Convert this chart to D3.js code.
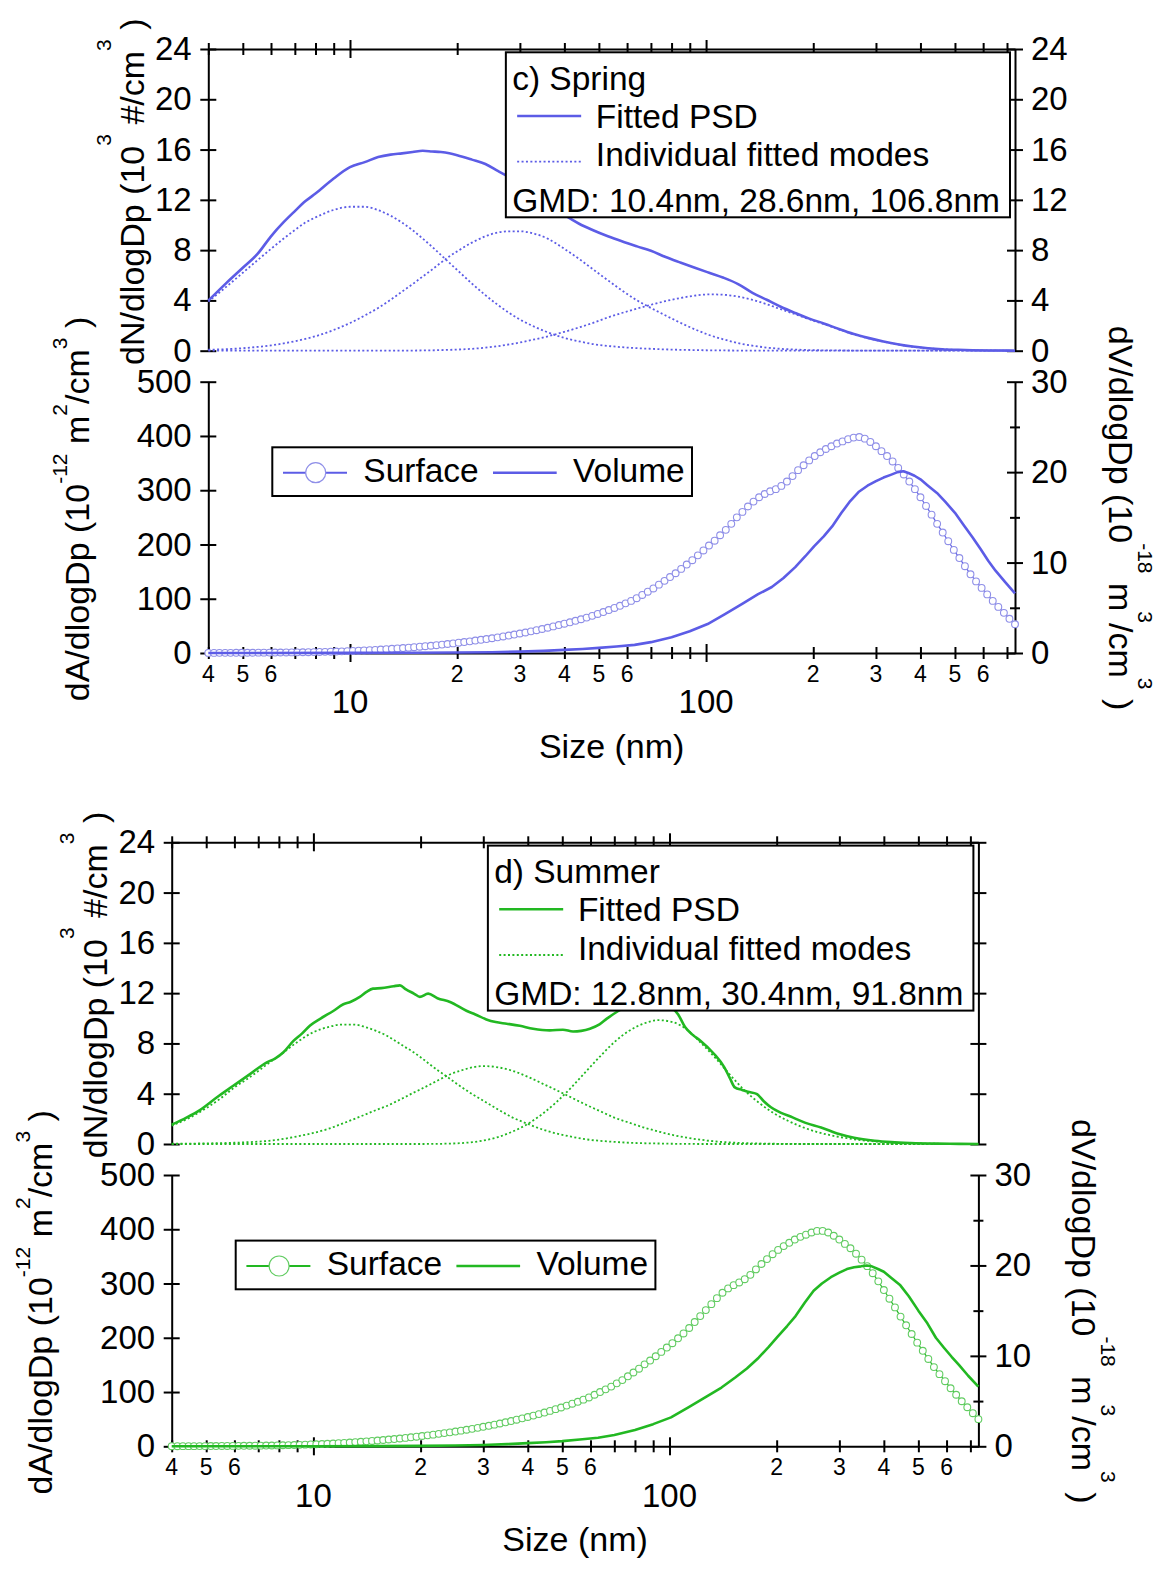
<!DOCTYPE html>
<html><head><meta charset="utf-8">
<script src="https://cdn.jsdelivr.net/npm/d3@7"></script>
<style>
html,body{margin:0;padding:0;background:#fff;}
svg text{font-family:"Liberation Sans",Arial,sans-serif;}
</style></head>
<body><svg id="chart" width="1161" height="1573"></svg>
<script>
// ---------------- DATA ----------------
const sizes = [4.00,4.15,4.30,4.46,4.62,4.79,4.96,5.15,5.33,5.53,5.73,5.94,6.16,6.38,6.62,6.86,7.11,7.37,7.64,7.92,8.21,8.51,8.83,9.15,9.48,9.83,10.19,10.57,10.95,11.36,11.77,12.20,12.65,13.11,13.59,14.09,14.61,15.14,15.70,16.27,16.87,17.49,18.13,18.79,19.48,20.19,20.93,21.70,22.49,23.32,24.17,25.06,25.97,26.93,27.91,28.93,29.99,31.09,32.23,33.41,34.64,35.91,37.22,38.59,40.00,41.47,42.98,44.56,46.19,47.88,49.63,51.45,53.33,55.29,57.31,59.41,61.59,63.84,66.18,68.61,71.12,73.72,76.43,79.22,82.13,85.13,88.25,91.49,94.84,98.31,101.9,105.7,109.5,113.6,117.7,122.0,126.5,131.1,135.9,140.9,146.1,151.4,157.0,162.7,168.7,174.9,181.3,187.9,194.8,201.9,209.3,217.0,224.9,233.2,241.7,250.6,259.7,269.3,279.1,289.3,299.9,310.9,322.3,334.1,346.4,359.1,372.2,385.9,400.0,414.7,429.8,445.6,461.9,478.8,496.3,514.5,533.3,552.9,573.1,594.1,615.9,638.4,661.8,686.1,711.2,737.2];

const springSurface = [0.2,0.2,0.3,0.3,0.3,0.4,0.4,0.5,0.5,0.6, 0.6,0.7,0.8,0.9,1.0,1.1,1.2,1.4,1.5,1.7, 1.9,2.1,2.4,2.7,3.0,3.4,3.8,4.2,4.7,5.2, 5.8,6.4,7.0,7.7,8.4,9.1,9.9,10.7,11.6,12.5, 13.4,14.4,15.5,16.6,17.7,19.0,20.2,21.5,22.9,24.3, 25.7,27.2,28.8,30.5,32.2,34.0,35.9,37.8,39.9,42.0, 44.2,46.5,49.0,51.5,54.0,56.6,59.3,62.2,65.2,68.5, 72.0,75.5,79.2,83.0,87.0,91.5,96,101,107,113, 119,126,133,140,147,155,163,171,180,189, 198,207,217,227,238,250,260,270,279,287, 293,298,302,308,316,326,337,346,355,363, 370,376,381,386,390,394,397,398,395,389, 381,372,363,353,341,329,316,302,287,271, 255,238,222,206,190,175,160,145,132,120, 108,96,85,74,63,53];

const summerSurface = [0.2,0.2,0.3,0.3,0.3,0.4,0.4,0.5,0.5,0.6, 0.6,0.7,0.8,0.9,1.0,1.1,1.2,1.4,1.5,1.7, 1.9,2.1,2.4,2.7,3.0,3.4,3.8,4.2,4.7,5.2, 5.8,6.4,7.0,7.7,8.4,9.1,9.9,10.7,11.6,12.5, 13.4,14.4,15.5,16.6,17.7,19.0,20.2,21.5,22.9,24.3, 25.7,27.2,28.8,30.5,32.2,34.0,35.9,37.8,39.9,42.0, 44.2,46.5,49.0,51.5,54.0,56.6,59.3,62.2,65.2,68.5, 71.5,75,78.5,82,86,90,95,100,105,110, 116,122,129,136,143,151,158,166,174,182, 190,199,208,218,229,240,251,262,273,283, 291,297,302,308,316,326,336,345,354,362, 369,375,381,386,390,394,397,397,394,388, 381,373,365,355,344,332,319,304,288,272, 256,239,223,207,191,176,161,146,133,120, 107,95,83,72,61,50];

const volSizes = [4,10,15,20,25,30,35,40,45,50,56,63,70,80,90,101,113,127,140,153,165,178,190,201,214,226,240,254,268,284,300,315,330,345,358,370,385,400,420,445,470,500,530,560,590,620,650,690,737];
const springVolume = [0,0.01,0.02,0.05,0.09,0.15,0.24,0.35,0.45,0.57, 0.72,0.9,1.2,1.75,2.4,3.2,4.3,5.5,6.5,7.3, 8.3,9.5,10.7,11.8,12.9,14.0,15.5,16.8,17.8,18.5, 19.0,19.4,19.7,20.0,20.1,19.9,19.6,19.2,18.5,17.7, 16.7,15.5,14.1,12.8,11.5,10.2,9.1,7.9,6.6];
const summerVolume = [0,0.01,0.02,0.05,0.09,0.15,0.24,0.35,0.45,0.57, 0.75,0.95,1.25,1.8,2.45,3.2,4.3,5.5,6.5,7.6, 8.6,9.8,11.0,12.1,13.3,14.4,15.9,17.2,18.0,18.7, 19.2,19.6,19.8,19.9,20.0,19.9,19.6,19.3,18.6,17.8, 16.6,15.0,13.6,12.0,10.9,9.9,9.0,7.8,6.6];

const modeSizes = [4,4.5,5,5.5,6,6.5,7,7.5,8,9, 10,11,12,13,14,15,16,17,18,19, 20,22,24,26,28,30,33,36,40,44, 48,53,58,64,70,77,85,93,102,112, 123,135,148,162,178,195,215,236,260,285, 315,345,380,420,460,510,560,620,680,737];

const springFit = [3.98,5.4,6.6,7.7,9.1,10.2,11.1,11.9,12.5,13.7, 14.6,15.0,15.4,15.6,15.7,15.8,15.9,15.85,15.8,15.7, 15.55,15.2,14.85,14.3,13.8,13.2,12.4,11.7,10.8,10.1, 9.6,9.1,8.7,8.3,7.95,7.45,7.0,6.6,6.2,5.8, 5.3,4.6,4.05,3.5,3.0,2.55,2.15,1.72,1.32,1.02, 0.74,0.52,0.33,0.2,0.12,0.07,0.04,0.02,0.01,0];
const springMode1 = [3.9,5.1,6.2,7.2,8.1,8.9,9.6,10.2,10.6,11.2, 11.45,11.45,11.18,10.74,10.19,9.58,8.92,8.27,7.62,7.0, 6.42,5.34,4.42,3.65,3.0,2.48,1.9,1.45,1.02,0.74, 0.53,0.38,0.28,0.2,0.15,0.1,0.07,0.05,0.03,0.02, 0.01,0,0,0,0,0,0,0,0,0, 0,0,0,0,0,0,0,0,0,0];
const springMode2 = [0.08,0.12,0.2,0.3,0.42,0.58,0.75,0.95,1.15,1.65, 2.2,2.8,3.4,4.05,4.7,5.3,5.9,6.45,7.0,7.5, 7.9,8.6,9.1,9.4,9.5,9.5,9.3,8.9,8.1,7.3, 6.5,5.6,4.8,4.0,3.4,2.8,2.2,1.7,1.25,0.9, 0.6,0.4,0.25,0.15,0.09,0.05,0.03,0.02,0.01,0, 0,0,0,0,0,0,0,0,0,0];
const springMode3 = [0,0,0,0,0,0,0,0,0,0, 0,0,0,0,0,0.01,0.02,0.03,0.05,0.07, 0.09,0.15,0.24,0.36,0.5,0.65,0.9,1.15,1.5,1.85, 2.2,2.65,3.0,3.35,3.65,3.95,4.2,4.38,4.48,4.45, 4.3,4.05,3.7,3.3,2.9,2.5,2.1,1.7,1.3,1.0, 0.72,0.5,0.32,0.19,0.11,0.06,0.03,0.02,0.01,0];

const summerFitSizes = [4,4.4,4.8,5.36,5.97,6.65,7.4,7.8,8.24,8.79, 9.3,9.79,10.5,11.4,12.1,12.7,13.5,14.1,14.7,15.5, 16.8,17.5,18.2,19.2,19.9,21.0,22.3,24.2,26.9,28.5, 30.6,32.5,34.9,38,41.4,46.1,50.2,53.6,56.5,59.8, 63.6,66.7,72,80,88,96,105.8,110.6,116,121.9, 133.3,142.6,148,152.6,160,166,175.6,184,192.7,205, 221.7,240,266.5,299.5,330,377,420,475,560,650,737];
const summerFit = [1.54,2.1,2.7,3.72,4.65,5.58,6.5,6.8,7.3,8.2, 8.8,9.43,10.0,10.6,11.1,11.3,11.7,12.1,12.36,12.4, 12.55,12.62,12.3,11.95,11.7,11.96,11.6,11.3,10.6,10.3, 9.91,9.7,9.57,9.4,9.17,9.04,9.09,8.95,9.0,9.17, 9.51,9.97,10.6,11.3,11.5,11.2,10.3,9.3,8.7,8.24, 7.18,6.1,5.2,4.5,4.3,4.15,3.99,3.4,2.92,2.5, 2.12,1.7,1.32,0.8,0.5,0.26,0.15,0.08,0.03,0.01,0];
const summerMode1 = [1.46,2.1,2.85,3.65,4.5,5.15,5.8,6.45,7.0,8.1, 8.9,9.3,9.5,9.5,9.3,9.0,8.65,8.2,7.75,7.35, 6.9,6.0,5.25,4.55,3.95,3.45,2.75,2.15,1.6,1.15, 0.85,0.58,0.38,0.25,0.17,0.1,0.06,0.04,0.02,0.01, 0,0,0,0,0,0,0,0,0,0, 0,0,0,0,0,0,0,0,0,0];
const summerMode2 = [0.02,0.03,0.05,0.07,0.1,0.14,0.19,0.25,0.35,0.6, 0.88,1.2,1.6,1.98,2.35,2.7,3.0,3.35,3.7,4.05, 4.35,4.95,5.5,5.85,6.1,6.2,6.1,5.85,5.35,4.8, 4.3,3.7,3.15,2.6,2.1,1.7,1.3,1.0,0.72,0.5, 0.33,0.2,0.12,0.07,0.04,0.02,0.01,0,0,0, 0,0,0,0,0,0,0,0,0,0];
const summerMode3 = [0,0,0,0,0,0,0,0,0,0, 0,0,0,0,0,0,0,0,0,0, 0,0.01,0.03,0.07,0.15,0.27,0.55,0.95,1.6,2.4, 3.3,4.5,5.7,7.0,8.1,9.0,9.6,9.85,9.7,9.1, 8.0,6.8,5.5,4.3,3.3,2.5,1.85,1.35,0.95,0.68, 0.46,0.31,0.2,0.12,0.07,0.04,0.02,0.01,0,0];

const xTicks = [4,5,6,7,8,9,10,20,30,40,50,60,70,80,90,100,200,300,400,500,600,700];
const xMajor = [10,100];
const xMinorLabelValues = [4,5,6,20,30,40,50,60,200,300,400,500,600];
const xMinorLabels = ["4","5","6","2","3","4","5","6","2","3","4","5","6"];
const xMajorLabels = ["10","100"];
const numberTicks = [0,4,8,12,16,20,24];
const areaTicks = [0,100,200,300,400,500];
const volumeTicks = [0,5,10,15,20,25,30];

const springTitle = "c) Spring", summerTitle = "d) Summer";
const springGMD = "GMD: 10.4nm, 28.6nm, 106.8nm", summerGMD = "GMD: 12.8nm, 30.4nm, 91.8nm";
const legendFitted = "Fitted PSD", legendModes = "Individual fitted modes";
const legendSurface = "Surface", legendVolume = "Volume";

// ---------------- LAYOUT ----------------
const FF = '"Liberation Sans", Arial, sans-serif';
const X0 = 208.3, X1 = 1015, NT = 49, NB = 350.7, AT = 381.7, AB = 653;
const svg = d3.select("#chart");

const panels = [
  {dx:0, dy:0, color:"#5c5ce6", light:"#8f8fe8", title:springTitle, gmd:springGMD,
   fitSizes:modeSizes, fit:springFit, modes:[springMode1,springMode2,springMode3],
   surface:springSurface, volume:springVolume, topRightLabels:true},
  {dx:-36.6, dy:793.3, color:"#22b822", light:"#62cc62", title:summerTitle, gmd:summerGMD,
   fitSizes:summerFitSizes, fit:summerFit, modes:[summerMode1,summerMode2,summerMode3],
   surface:summerSurface, volume:summerVolume, topRightLabels:false}
];

function styleAxis(sel, fs){
  sel.attr("font-family", FF).attr("font-size", fs||33);
  sel.select(".domain").attr("stroke","#000").attr("stroke-width",2);
  sel.selectAll(".tick line").attr("stroke","#000").attr("stroke-width",2);
  sel.selectAll(".tick text").attr("fill","#000");
}

function title(g, x, y, rot, parts, fs){
  const t = g.append("text").attr("transform",`translate(${x},${y}) rotate(${rot})`)
    .attr("text-anchor","middle").attr("font-size",fs).attr("fill","#000");
  let cur = 0;
  parts.forEach(([s, raise, size]) => {
    t.append("tspan").attr("dy", -(raise - cur)).attr("font-size", size || fs).text(s);
    cur = raise;
  });
}

function drawPanel(p){
  const g = svg.append("g");
  const dx = p.dx, dy = p.dy;
  const x = d3.scaleLog().domain([4, 737.2]).range([X0+dx, X1+dx]);
  const yN = d3.scaleLinear().domain([0,24]).range([NB+dy, NT+dy]);
  const yA = d3.scaleLinear().domain([0,500]).range([AB+dy, AT+dy]);
  const yV = d3.scaleLinear().domain([0,30]).range([AB+dy, AT+dy]);
  const isMajor = d => xMajor.includes(d);

  // ---- top subplot axes ----
  const ln = g.append("g").attr("transform",`translate(${X0+dx},0)`)
    .call(d3.axisLeft(yN).tickValues(numberTicks).tickSizeInner(8).tickSizeOuter(0).tickPadding(8.6));
  ln.selectAll(".tick line").attr("x1", 8);
  styleAxis(ln);
  const rn = g.append("g").attr("transform",`translate(${X1+dx},0)`)
    .call(d3.axisRight(yN).tickValues(numberTicks).tickSizeInner(8).tickSizeOuter(0).tickPadding(8)
      .tickFormat(d => p.topRightLabels ? d : ""));
  rn.selectAll(".tick line").attr("x1", -8);
  styleAxis(rn);
  const tx = g.append("g").attr("transform",`translate(0,${NT+dy})`)
    .call(d3.axisTop(x).tickValues(xTicks).tickFormat("").tickSizeOuter(0).tickSizeInner(6));
  tx.selectAll(".tick line").attr("y1", d => isMajor(d) ? 9 : 6).attr("y2", d => isMajor(d) ? -9 : -6);
  styleAxis(tx);

  // ---- bottom subplot axes ----
  const la = g.append("g").attr("transform",`translate(${X0+dx},0)`)
    .call(d3.axisLeft(yA).tickValues(areaTicks).tickSizeInner(8).tickSizeOuter(0).tickPadding(8.6));
  la.selectAll(".tick line").attr("x1", 8);
  styleAxis(la);
  const rv = g.append("g").attr("transform",`translate(${X1+dx},0)`)
    .call(d3.axisRight(yV).tickValues(volumeTicks).tickSizeInner(8).tickSizeOuter(0).tickPadding(8)
      .tickFormat(d => d % 10 === 0 ? d : ""));
  rv.selectAll(".tick line").attr("x1", d => d % 10 ? -5 : -8).attr("x2", d => d % 10 ? 5 : 8);
  styleAxis(rv);
  const bx = g.append("g").attr("transform",`translate(0,${AB+dy})`)
    .call(d3.axisBottom(x).tickValues(xTicks).tickFormat("").tickSizeOuter(0).tickSizeInner(6));
  bx.selectAll(".tick line").attr("y1", d => isMajor(d) ? -9 : -6).attr("y2", d => isMajor(d) ? 9 : 6);
  styleAxis(bx);

  // x tick labels
  g.append("g").selectAll("text").data(xMinorLabelValues).join("text")
    .attr("x", d => x(d)).attr("y", AB+dy+28.7).attr("text-anchor","middle")
    .attr("font-size", 23).attr("fill","#000").text((d,i) => xMinorLabels[i]);
  g.append("g").selectAll("text").data(xMajor).join("text")
    .attr("x", d => x(d)).attr("y", AB+dy+60.3).attr("text-anchor","middle")
    .attr("font-size", 33).attr("fill","#000").text((d,i) => xMajorLabels[i]);

  // axis titles
  g.append("text").attr("x", (X0+X1)/2+dx).attr("y", 758+dy).attr("text-anchor","middle")
    .attr("font-size", 34).attr("fill","#000").text("Size (nm)");
  title(g, 144+dx, 191.7+dy, -90, [["dN/dlogDp (10",0],["3",33,21],[" #/cm",0],["3",33,21],[" )",0]], 34);
  title(g, 89+dx, 509+dy, -90, [["dA/dlogDp (10",0],["-12",22,21],[" m",0],["2",22,21],["/cm",0],["3",22,21],[" )",0]], 34);
  title(g, 1109+dx, 518+dy, 90, [["dV/dlogDp (10",0],["-18",29,21],[" m",0],["3",29,21],["/cm",0],["3",29,21],[" )",0]], 34);

  // ---- top subplot curves ----
  const lineN = d3.line().x(d => x(d[0])).y(d => yN(d[1]));
  p.modes.forEach(m => {
    g.append("path").datum(d3.zip(modeSizes, m)).attr("fill","none").attr("stroke",p.color)
      .attr("stroke-width",1.8).attr("stroke-dasharray","2,2.4")
      .attr("d", lineN.curve(d3.curveMonotoneX));
  });
  g.append("path").datum(d3.zip(p.fitSizes, p.fit)).attr("fill","none").attr("stroke",p.color)
    .attr("stroke-width",2.6).attr("stroke-linejoin","round")
    .attr("d", d3.line().x(d => x(d[0])).y(d => yN(d[1])).curve(d3.curveMonotoneX));

  // ---- bottom subplot curves ----
  const surf = d3.zip(sizes, p.surface);
  g.append("path").datum(surf).attr("fill","none").attr("stroke",p.color).attr("stroke-width",1.2)
    .attr("d", d3.line().x(d => x(d[0])).y(d => yA(d[1])));
  g.append("g").selectAll("circle").data(surf).join("circle")
    .attr("cx", d => x(d[0])).attr("cy", d => yA(d[1])).attr("r", 3.4)
    .attr("fill","#fff").attr("stroke",p.light).attr("stroke-width",1.1);
  g.append("path").datum(d3.zip(volSizes, p.volume)).attr("fill","none").attr("stroke",p.color)
    .attr("stroke-width",2.6).attr("stroke-linejoin","round")
    .attr("d", d3.line().x(d => x(d[0])).y(d => yV(d[1])));

  // ---- legend (top) ----
  const LF = 33.5;
  const lg = g.append("g");
  const top = 52.3 + dy, boxR = X1 + dx - 5;
  const box = lg.append("rect");
  const gm = lg.append("text").attr("font-size",LF).attr("fill","#000").text(p.gmd);
  const w = gm.node().getComputedTextLength();
  const tX = boxR - 10 - w, boxL = tX - 6.3;
  gm.attr("x", tX).attr("y", top + 159.4);
  box.attr("x", boxL).attr("y", top).attr("width", boxR - boxL).attr("height", 165)
    .attr("fill","#fff").attr("stroke","#000").attr("stroke-width",2);
  lg.append("text").attr("x", tX).attr("y", top + 37.7).attr("font-size",LF).attr("fill","#000").text(p.title);
  lg.append("line").attr("x1", tX+5).attr("x2", tX+69).attr("y1", top+63.7).attr("y2", top+63.7)
    .attr("stroke",p.color).attr("stroke-width",2.6);
  lg.append("text").attr("x", tX+83.7).attr("y", top + 75.7).attr("font-size",LF).attr("fill","#000").text(legendFitted);
  lg.append("line").attr("x1", tX+5).attr("x2", tX+69).attr("y1", top+109.4).attr("y2", top+109.4)
    .attr("stroke",p.color).attr("stroke-width",1.8).attr("stroke-dasharray","2,2.4");
  lg.append("text").attr("x", tX+83.7).attr("y", top + 114).attr("font-size",LF).attr("fill","#000").text(legendModes);

  // ---- legend (bottom) ----
  const bl = g.append("g");
  const bL = 272.3 + dx, bT = 447.3 + dy;
  bl.append("rect").attr("x", bL).attr("y", bT).attr("width", 419.7).attr("height", 48.7)
    .attr("fill","#fff").attr("stroke","#000").attr("stroke-width",2);
  bl.append("line").attr("x1", bL+10.7).attr("x2", bL+74.7).attr("y1", bT+25.4).attr("y2", bT+25.4)
    .attr("stroke",p.color).attr("stroke-width",2);
  bl.append("circle").attr("cx", bL+43.4).attr("cy", bT+25.4).attr("r", 10)
    .attr("fill","#fff").attr("stroke",p.light).attr("stroke-width",1.2);
  bl.append("text").attr("x", bL+91).attr("y", bT+34.4).attr("font-size",LF).attr("fill","#000").text(legendSurface);
  bl.append("line").attr("x1", bL+220.7).attr("x2", bL+284.4).attr("y1", bT+25.4).attr("y2", bT+25.4)
    .attr("stroke",p.color).attr("stroke-width",2.6);
  bl.append("text").attr("x", bL+300.7).attr("y", bT+34.4).attr("font-size",LF).attr("fill","#000").text(legendVolume);
}

panels.forEach(drawPanel);
</script>
</body></html>
